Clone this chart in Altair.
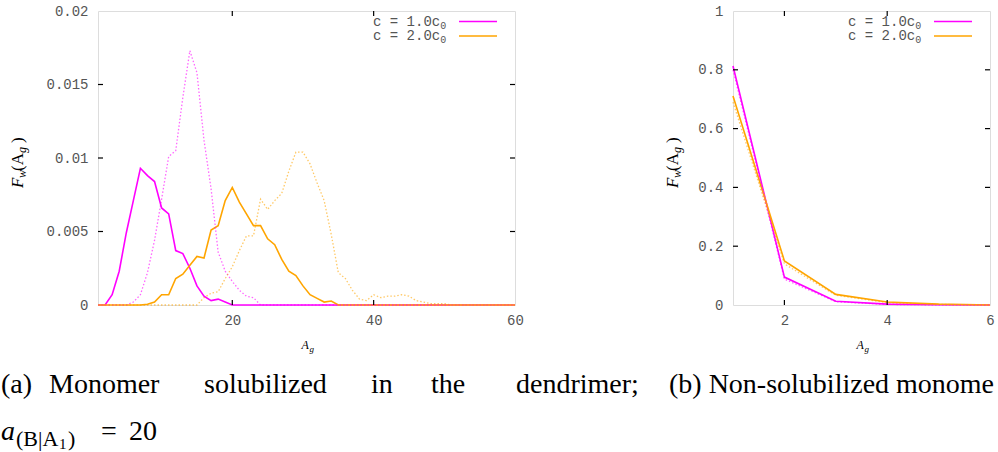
import altair as alt
import pandas as pd

# ---------------- data ----------------
ag_left = list(range(1, 61))
c1_solid_left = [0, 0, 0.0007, 0.0023, 0.0049, 0.0071, 0.0093, 0.0088, 0.0084, 0.0066,
                 0.0062, 0.0037, 0.0035, 0.0025, 0.0013, 0.0006, 0.0003, 0.0004, 0.0002] + [0] * 41
c1_dotted_left = [0, 0, 0, 0, 0, 0.0002, 0.0007, 0.0022, 0.0044, 0.0072,
                  0.0101, 0.0105, 0.0141, 0.0173, 0.0158, 0.0112, 0.0079, 0.0036, 0.0023, 0.0016,
                  0.0010, 0.0006, 0.0005] + [0] * 37
c2_solid_left = [0] * 7 + [0.00005, 0.0002, 0.0007, 0.0007, 0.0018, 0.0021, 0.0027, 0.0033, 0.0032,
                           0.0051, 0.0054, 0.0071, 0.0080, 0.0070, 0.0062, 0.0054, 0.0054, 0.0045,
                           0.0041, 0.0031, 0.0023, 0.0020, 0.0013, 0.0007, 0.00045, 0.0002,
                           0.00027] + [0] * 26
c2_dotted_left = [0] * 15 + [0.0005, 0.0008, 0.0009, 0.0018, 0.0026, 0.0037, 0.0047, 0.0047, 0.0072,
                             0.0065, 0.0071, 0.0076, 0.0091, 0.0104, 0.0104, 0.0096, 0.0083, 0.0071,
                             0.0048, 0.0022, 0.0018, 0.0010, 0.0004, 0.0003, 0.0007, 0.0005, 0.0006,
                             0.0006, 0.0007, 0.0006, 0.0003, 0.0002, 0.0001, 0.0001, 0.0001] + [0] * 10

ag_right = [1, 2, 3, 4, 5, 6]
c1_solid_right = [0.813, 0.095, 0.013, 0.003, 0.001, 0.0]
c1_dotted_right = [0.800, 0.088, 0.011, 0.002, 0.0005, 0.0]
c2_solid_right = [0.711, 0.150, 0.036, 0.010, 0.003, 0.0]
c2_dotted_right = [0.690, 0.140, 0.033, 0.008, 0.002, 0.0]

series_names = ["c = 1.0c0", "c = 2.0c0"]
legend_texts = ["c = 1.0c", "c = 2.0c"]
colors = ["#ff00ff", "#ffa500"]

left_xticks = [20, 40, 60]
left_yticks = [0, 0.005, 0.01, 0.015, 0.02]
right_xticks = [2, 4, 6]
right_yticks = [0, 0.2, 0.4, 0.6, 0.8, 1]

caption_a_words = ["(a)", "Monomer", "solubilized", "in", "the", "dendrimer;"]
caption_a_x = [0, 48, 203, 370, 430, 515]
caption_b = "(b) Non-solubilized monomer"

MONO = "Liberation Mono"
SERIF = "Liberation Serif"
LABEL_COLOR = "#555555"
CAP_SIZE = 28

WL, WR, H = 417, 257, 294
LEFT_ORIGIN, RIGHT_ORIGIN = 97, 732


def long_df(ag, s1, s2):
    return pd.DataFrame({
        "A": list(ag) + list(ag),
        "F": list(s1) + list(s2),
        "series": [series_names[0]] * len(ag) + [series_names[1]] * len(ag),
    })


def txt(text, x, y, **kw):
    return alt.Chart(pd.DataFrame({"t": [text]})).mark_text(**kw).encode(
        x=alt.value(x), y=alt.value(y), text="t:N")


def ytitle(xm, xs, y0, italic_size=17, sub_size=12):
    parts = [
        ("F", xm, y0, italic_size, "italic"),
        ("w", xs, y0 - 10, sub_size, "italic"),
        ("(A", xm, y0 - 17, italic_size, "normal"),
        ("g", xs, y0 - 35, sub_size, "italic"),
        (")", xm, y0 - 45, italic_size, "normal"),
    ]
    return [txt(t, x, y, font=SERIF, fontSize=s, fontStyle=st, angle=270, align="left",
                baseline="alphabetic", color="black") for t, x, y, s, st in parts]


def xtitle(cx, y):
    return [
        txt("A", cx - 5, y, font=SERIF, fontSize=12, fontStyle="italic", align="left",
            baseline="alphabetic", color="black"),
        txt("g", cx + 3, y + 3, font=SERIF, fontSize=9, fontStyle="italic", align="left",
            baseline="alphabetic", color="black"),
    ]


def panel(ag, c1s, c1d, c2s, c2d, xdom, xticks, ydom, yticks, W, ytx, extra):
    X = alt.X("A:Q", scale=alt.Scale(domain=xdom, nice=False, zero=False),
              axis=alt.Axis(values=xticks, title=None, grid=False, domain=False, ticks=False,
                            tickSize=0, labelFont=MONO, labelFontSize=14, labelColor=LABEL_COLOR,
                            labelPadding=8, labelFlush=False, labelOverlap=False, format="d"))
    Y = alt.Y("F:Q", scale=alt.Scale(domain=ydom, nice=False, zero=True),
              axis=alt.Axis(values=yticks, title=None, grid=False, domain=False, ticks=False,
                            tickSize=0, labelFont=MONO, labelFontSize=14, labelColor=LABEL_COLOR,
                            labelPadding=10, labelFlush=False, labelOverlap=False, format="~g"))
    C = alt.Color("series:N", scale=alt.Scale(domain=series_names, range=colors), legend=None)

    solid = alt.Chart(long_df(ag, c1s, c2s)).mark_line(strokeWidth=1.6).encode(
        x=X, y=Y, color=C, detail="series:N")
    dotted = alt.Chart(long_df(ag, c1d, c2d)).mark_line(
        strokeWidth=1.3, strokeDash=[1.5, 2], opacity=0.6).encode(x=X, y=Y, color=C, detail="series:N")

    xt_in = [t for t in xticks if xdom[0] < t < xdom[1]]
    yt_in = [t for t in yticks if ydom[0] < t < ydom[1]]
    xt_df = pd.DataFrame({"A": xt_in})
    yt_df = pd.DataFrame({"F": yt_in})
    tk = dict(color="black", strokeWidth=1.2)
    ticks = [
        alt.Chart(xt_df).mark_rule(**tk).encode(x=X, y=alt.value(H), y2=alt.value(H - 5)),
        alt.Chart(xt_df).mark_rule(**tk).encode(x=X, y=alt.value(0), y2=alt.value(5)),
        alt.Chart(yt_df).mark_rule(**tk).encode(y=Y, x=alt.value(0), x2=alt.value(5)),
        alt.Chart(yt_df).mark_rule(**tk).encode(y=Y, x=alt.value(W - 5), x2=alt.value(W)),
    ]

    legend = []
    for i, (lt, col) in enumerate(zip(legend_texts, colors)):
        ly = 10.5 + 14.5 * i
        legend.append(txt(lt, W - 142, ly, font=MONO, fontSize=14, color=LABEL_COLOR,
                          align="left", baseline="middle"))
        legend.append(txt("0", W - 142 + 67.2, ly + 4, font=MONO, fontSize=10, color=LABEL_COLOR,
                          align="left", baseline="middle"))
        legend.append(alt.Chart(pd.DataFrame({"s": [series_names[i]]})).mark_rule(
            color=col, strokeWidth=1.6).encode(x=alt.value(W - 56), x2=alt.value(W - 18),
                                               y=alt.value(ly)))

    layers = [solid, dotted] + ticks + legend + ytitle(ytx, ytx + 3, 177) + xtitle(W / 2, 338) + extra
    return alt.layer(*layers).properties(width=W, height=H)


def serif(text, x, y, size, style="normal", **kw):
    return txt(text, x, y, font=SERIF, fontSize=size, fontStyle=style, color="black",
               align="left", baseline="alphabetic", **kw)


# captions (x given in page pixels, converted to panel coordinates)
cap_a = [serif(w, x - LEFT_ORIGIN, 382, CAP_SIZE) for w, x in zip(caption_a_words, caption_a_x)]
cap_a2 = [
    serif("a", 0 - LEFT_ORIGIN, 429, CAP_SIZE, "italic"),
    serif("(B|A", 15 - LEFT_ORIGIN, 435, 22),
    serif("1", 58 - LEFT_ORIGIN, 438, 15),
    serif(")", 67 - LEFT_ORIGIN, 435, 22),
    serif("=", 100 - LEFT_ORIGIN, 429, CAP_SIZE),
    serif("20", 128 - LEFT_ORIGIN, 429, CAP_SIZE),
]
cap_b = [serif(caption_b, 668 - RIGHT_ORIGIN, 382, CAP_SIZE, limit=998 - 668, ellipsis="\u200b")]

left = panel(ag_left, c1_solid_left, c1_dotted_left, c2_solid_left, c2_dotted_left,
             [1, 60], left_xticks, [0, 0.02], left_yticks, WL, -75, cap_a + cap_a2)
right = panel(ag_right, c1_solid_right, c1_dotted_right, c2_solid_right, c2_dotted_right,
              [1, 6], right_xticks, [0, 1], right_yticks, WR, -55, cap_b)

chart = alt.hconcat(left, right, spacing=RIGHT_ORIGIN - LEFT_ORIGIN - WL, bounds="flush").properties(
    padding={"left": 0, "top": 3, "right": 0, "bottom": 0}
).configure_view(stroke="black", strokeWidth=2).configure(background="white")

chart.save("out.html", embed_options={"renderer": "svg", "actions": False})
